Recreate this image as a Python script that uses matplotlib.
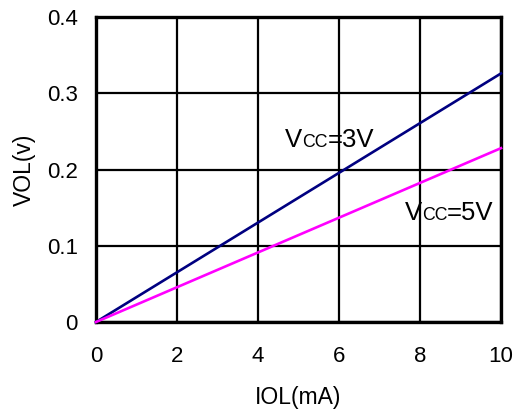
import matplotlib
matplotlib.use("Agg")
import matplotlib.pyplot as plt

plt.rcParams['font.family'] = ['Liberation Sans', 'DejaVu Sans']

iol = [0, 10]
vol_3v = [0, 0.326]
vol_5v = [0, 0.228]
xticks = [0, 2, 4, 6, 8, 10]
yticks = [0, 0.1, 0.2, 0.3, 0.4]
ytick_labels = ['0', '0.1', '0.2', '0.3', '0.4']

fig = plt.figure(figsize=(5.2, 4.12), dpi=100)
ax = fig.add_axes([96/520, 1-322/412, 405/520, 305/412])
ax.plot(iol, vol_3v, color='#000080', lw=1.9, zorder=3, clip_on=False)
ax.plot(iol, vol_5v, color='#ff00ff', lw=1.9, zorder=3, clip_on=False)
ax.set_xlim(0, 10)
ax.set_ylim(0, 0.4)
ax.set_xticks(xticks)
ax.set_yticks(yticks)
ax.set_yticklabels(ytick_labels)
ax.grid(True, color='black', lw=1.6)
ax.set_axisbelow(True)
for s in ax.spines.values():
    s.set_linewidth(2.4)
ax.tick_params(length=0, labelsize=16)
ax.tick_params(axis='x', pad=17)
ax.tick_params(axis='y', pad=13)
ax.set_xlabel('IOL(mA)', fontsize=16.5, labelpad=14)
ax.set_ylabel('VOL(v)', fontsize=16.5, labelpad=8)

def vcc_label(x, y, tail):
    fig.canvas.draw()
    r = fig.canvas.get_renderer()
    t1 = ax.text(x, y, 'V', fontsize=18.5, va='baseline', ha='left', zorder=4)
    bb = t1.get_window_extent(r)
    inv = ax.transData.inverted()
    x2 = inv.transform((bb.x1, 0))[0]
    t2 = ax.text(x2, y, 'CC', fontsize=12.8, va='baseline', ha='left', zorder=4)
    bb2 = t2.get_window_extent(r)
    x3 = inv.transform((bb2.x1, 0))[0]
    ax.text(x3, y, tail, fontsize=18.5, va='baseline', ha='left', zorder=4)

vcc_label(4.66, 0.229, '=3V')
vcc_label(7.62, 0.134, '=5V')

fig.savefig('out.png', dpi=100)
